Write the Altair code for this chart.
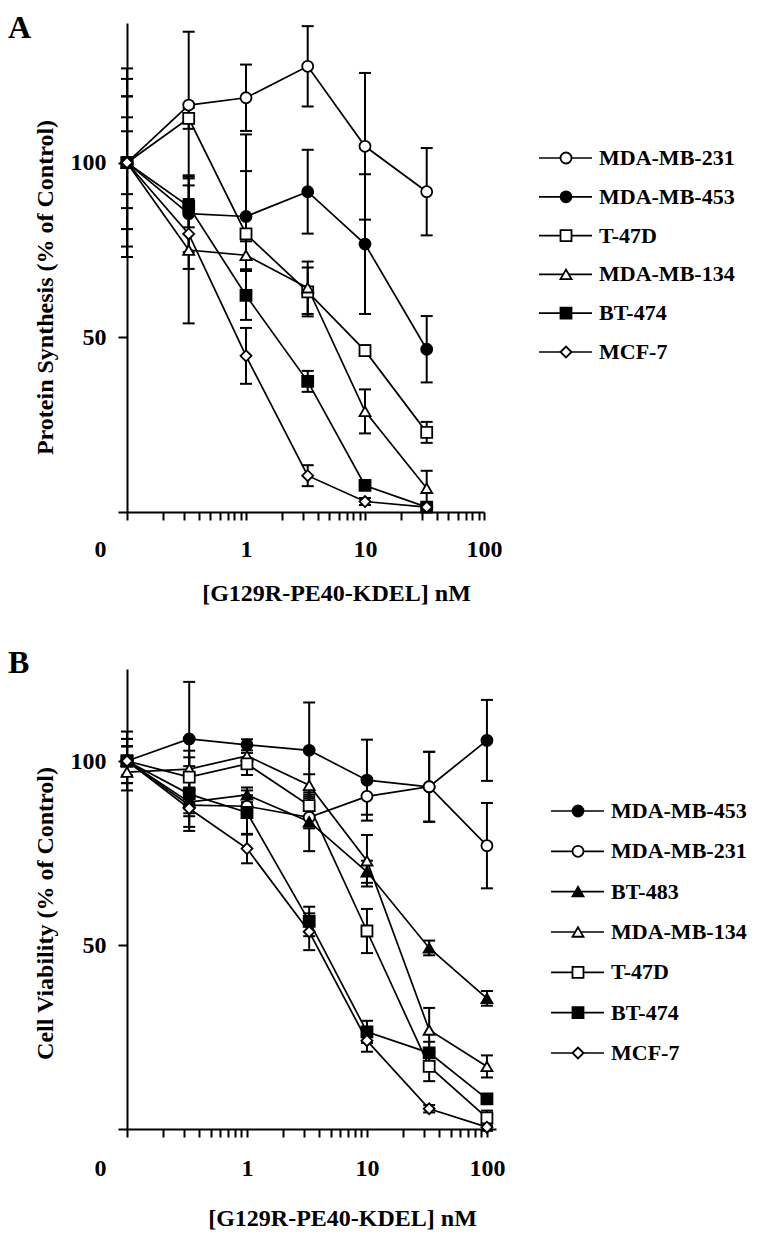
import altair as alt
import pandas as pd

FONT = "Liberation Serif"

# ---------------- Panel A data: Protein synthesis ----------------
doses_a = [0, 0.33, 1, 3.3, 10, 33]
series_a = ["MDA-MB-231", "MDA-MB-453", "T-47D", "MDA-MB-134", "BT-474", "MCF-7"]

a_mda231 = [100, 116.5, 118.6, 127.6, 104.7, 91.7]
a_mda231_err = [27, 21, 9.5, 11.5, 21, 12.5]
a_mda453 = [100, 85.4, 84.6, 91.7, 76.7, 46.6]
a_mda453_err = [24, 11, 23.5, 12, 20, 9.5]
a_t47d = [100, 112.7, 79.6, 63, 46.2, 22.8]
a_t47d_err = [19, 3, 18, 7, 1.5, 3]
a_mda134 = [100, 75, 73.5, 64.2, 28.8, 6.8]
a_mda134_err = [13, 21, 4, 7.5, 6.3, 5]
a_bt474 = [100, 87.5, 62, 37.4, 7.6, 1.4]
a_bt474_err = [9, 6, 7, 3, 1, 1]
a_mcf7 = [100, 79.6, 44.7, 10.4, 3, 1.4]
a_mcf7_err = [19, 10, 8, 3, 1, 1]

# ---------------- Panel B data: Cell viability ----------------
doses_b = [0, 0.33, 1, 3.3, 10, 33, 100]
series_b = ["MDA-MB-453", "MDA-MB-231", "BT-483", "MDA-MB-134", "T-47D", "BT-474", "MCF-7"]

b_mda453 = [100, 106, 104.4, 102.9, 94.8, 93, 105.6]
b_mda453_err = [8, 15.5, 1.5, 13, 11, 9.5, 11]
b_mda231 = [100, 88, 87.7, 84.7, 90.4, 93, 77]
b_mda231_err = [4, 3, 3, 3, 5, 9.5, 11.6]
b_bt483 = [100, 88.8, 90.8, 83.5, 69.9, 49.2, 35.5]
b_bt483_err = [4, 3, 2, 8, 3, 2, 2]
b_mda134 = [97, 97.8, 101.4, 93.4, 72.9, 26.9, 17]
b_mda134_err = [3, 5, 3, 3, 7, 6, 3]
b_t47d = [100, 95.6, 99.2, 87.9, 53.8, 17, 3]
b_t47d_err = [6, 3, 3, 3, 6, 4, 2]
b_bt474 = [100, 91, 86, 56.4, 26.4, 20.7, 8.2]
b_bt474_err = [4, 10, 6, 4, 3, 3, 1]
b_mcf7 = [100, 87.1, 76.2, 53.6, 24, 5.5, 0.5]
b_mcf7_err = [6, 5, 4, 5, 3, 1, 1]

values_a = {"MDA-MB-231": (a_mda231, a_mda231_err), "MDA-MB-453": (a_mda453, a_mda453_err),
            "T-47D": (a_t47d, a_t47d_err), "MDA-MB-134": (a_mda134, a_mda134_err),
            "BT-474": (a_bt474, a_bt474_err), "MCF-7": (a_mcf7, a_mcf7_err)}
values_b = {"MDA-MB-453": (b_mda453, b_mda453_err), "MDA-MB-231": (b_mda231, b_mda231_err),
            "BT-483": (b_bt483, b_bt483_err), "MDA-MB-134": (b_mda134, b_mda134_err),
            "T-47D": (b_t47d, b_t47d_err), "BT-474": (b_bt474, b_bt474_err),
            "MCF-7": (b_mcf7, b_mcf7_err)}

# marker styles per cell line
shape_of = {"MDA-MB-231": "circle", "MDA-MB-453": "circle", "T-47D": "square",
            "MDA-MB-134": "triangle-up", "BT-474": "square", "MCF-7": "diamond",
            "BT-483": "triangle-up"}
fill_of = {"MDA-MB-231": "white", "MDA-MB-453": "black", "T-47D": "white",
           "MDA-MB-134": "white", "BT-474": "black", "MCF-7": "white", "BT-483": "black"}
size_by_shape = {"circle": 121, "square": 110, "triangle-up": 150, "diamond": 140}

minor_ticks = [0.1, 0.2, 0.3, 0.4, 0.5, 0.6, 0.7, 0.8, 0.9,
               1, 2, 3, 4, 5, 6, 7, 8, 9,
               10, 20, 30, 40, 50, 60, 70, 80, 90, 100]

XTITLE = "[G129R-PE40-KDEL] nM"


def build(doses, series, values):
    rows = []
    for s in series:
        vals, errs = values[s]
        for d, v, e in zip(doses, vals, errs):
            rows.append({"series": s, "dose": d, "value": v, "err": e})
    return pd.DataFrame(rows)


def style_scales(series):
    shp = alt.Scale(domain=series, range=[shape_of[s] for s in series])
    fil = alt.Scale(domain=series, range=[fill_of[s] for s in series])
    siz = alt.Scale(domain=series, range=[size_by_shape[shape_of[s]] for s in series])
    return shp, fil, siz


def panel(df, series, xmax, width, height, ymax, ytitle, title_y, lab_pad, tit_pad, title_x):
    shp, fil, siz = style_scales(series)
    xscale = alt.Scale(type="log", domain=[0.1, xmax], nice=False)
    yscale = alt.Scale(domain=[0, ymax], nice=False)
    xaxis = alt.Axis(
        values=minor_ticks,
        labelExpr="datum.value == 0.1 ? '0' : (datum.value == 1 ? '1' : (datum.value == 10 ? '10' : (datum.value == 100 ? '100' : '')))",
        labelOffset={"condition": {"test": "datum.value == 0.1", "value": -27}, "value": 0},
        tickSize=8, labelPadding=lab_pad, titlePadding=tit_pad, titleX=title_x,
        labelFlush=False, labelOverlap=False,
    )
    yaxis = alt.Axis(values=[0, 50, 100], labelExpr="datum.value == 0 ? '' : datum.label",
                     tickSize=9, labelPadding=12, titlePadding=13, titleY=title_y)

    def X():
        return alt.X("xpos:Q", scale=xscale, axis=xaxis, title=XTITLE)

    def Y(field):
        return alt.Y(field, scale=yscale, axis=yaxis, title=ytitle)

    base = alt.Chart(df).transform_calculate(
        xpos="datum.dose == 0 ? 0.1 : datum.dose",
        lo="datum.value - datum.err",
        hi="datum.value + datum.err",
    )
    lines = base.mark_line(color="black", strokeWidth=1.7).encode(
        x=X(), y=Y("value:Q"), detail="series:N",
    )
    bars = base.mark_rule(color="black", strokeWidth=2).encode(
        x=X(), y=Y("lo:Q"), y2="hi:Q",
    )
    cap_lo = base.mark_tick(color="black", orient="horizontal", size=12, thickness=2, opacity=1).encode(
        x=X(), y=Y("lo:Q"),
    )
    cap_hi = base.mark_tick(color="black", orient="horizontal", size=12, thickness=2, opacity=1).encode(
        x=X(), y=Y("hi:Q"),
    )
    pts = base.mark_point(stroke="black", strokeWidth=1.8, opacity=1, fillOpacity=1).encode(
        x=X(), y=Y("value:Q"),
        shape=alt.Shape("series:N", scale=shp, legend=None),
        fill=alt.Fill("series:N", scale=fil, legend=None),
        size=alt.Size("series:N", scale=siz, legend=None),
    )
    return alt.layer(lines, bars, cap_lo, cap_hi, pts).properties(width=width, height=height)


def legend_view(series, y0, y1, height):
    shp, fil, siz = style_scales(series)
    ldf = pd.DataFrame({"series": series})
    yenc = alt.Y("series:N", scale=alt.Scale(type="point", domain=series, range=[y0, y1], padding=0), axis=None)
    base = alt.Chart(ldf)
    rule = base.mark_rule(color="black", strokeWidth=1.7).encode(
        x=alt.value(0), x2=alt.value(53), y=yenc)
    pts = base.mark_point(stroke="black", strokeWidth=1.8, opacity=1, fillOpacity=1).encode(
        x=alt.value(27), y=yenc,
        shape=alt.Shape("series:N", scale=shp, legend=None),
        fill=alt.Fill("series:N", scale=fil, legend=None),
        size=alt.Size("series:N", scale=siz, legend=None),
    )
    txt = base.mark_text(align="left", baseline="middle", font=FONT, fontSize=22,
                         fontWeight="bold", color="black").encode(
        x=alt.value(60), y=yenc, text="series:N")
    return alt.layer(rule, pts, txt).properties(width=190, height=height)


df_a = build(doses_a, series_a, values_a)
df_b = build(doses_b, series_b, values_b)

plot_a = panel(df_a, series_a, 100, 357, 489, 140, "Protein Synthesis (% of Control)",
               264, 17, 20, 209)
plot_b = panel(df_b, series_b, 119, 369, 460, 125, "Cell Viability (% of Control)",
               244, 19, 26, 215)

leg_a = legend_view(series_a, 135, 329, 489)
leg_b = legend_view(series_b, 142, 384, 460)


def letter(t, off):
    return alt.TitleParams(t, anchor="start", frame="bounds", fontSize=32, font=FONT,
                           fontWeight="bold", color="black", dx=-25, offset=off)


row_a = alt.hconcat(plot_a, leg_a, spacing=36, title=letter("A", -22)).resolve_scale(
    x="independent", y="independent", shape="independent", fill="independent", size="independent")
row_b = alt.hconcat(plot_b, leg_b, spacing=45, title=letter("B", -11)).resolve_scale(
    x="independent", y="independent", shape="independent", fill="independent", size="independent")

chart = alt.vconcat(row_a, row_b, spacing=42).resolve_scale(
    x="independent", y="independent", shape="independent", fill="independent", size="independent"
).properties(
    padding={"left": 0, "top": 4, "right": 5, "bottom": 5}
).configure_view(stroke=None).configure_axis(
    domainColor="black", domainWidth=2, tickColor="black", tickWidth=2,
    labelFont=FONT, labelFontWeight="bold", labelFontSize=24, labelColor="black",
    titleFont=FONT, titleFontWeight="bold", titleFontSize=24, titleColor="black",
    grid=False,
)

chart.save("out.html", embed_options={"renderer": "svg", "actions": False})
